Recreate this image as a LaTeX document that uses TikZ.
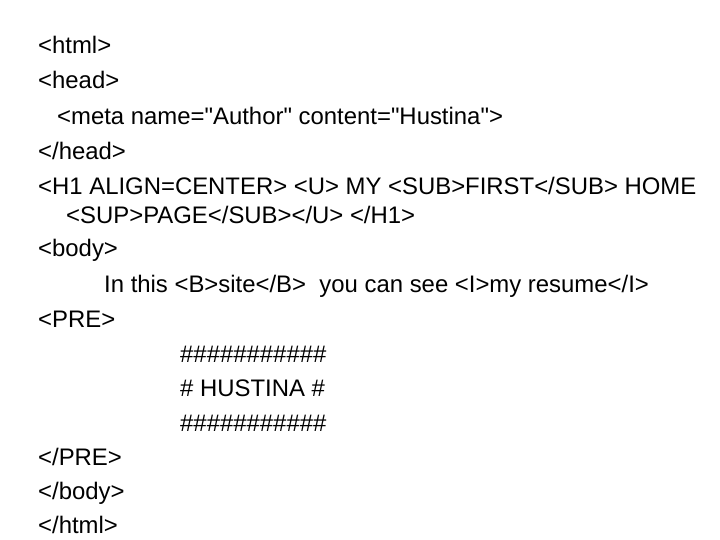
\documentclass[tikz,border=0pt]{standalone}
\usepackage{fontspec}
\setmainfont{Liberation Sans}
\begin{document}
\begin{tikzpicture}[x=1pt,y=-1pt,t/.style={anchor=base west,inner sep=0pt,font=\fontsize{23.9}{26}\selectfont}]
\useasboundingbox (0,0) rectangle (720,540);
\node[t] (l1) at (38,54) {<html>};
\node[t] (l2) at (38,89) {<head>};
\node[t] (l3) at (57,125) {<meta name=\textquotedbl Author\textquotedbl\ content=\textquotedbl Hustina\textquotedbl>};
\node[t] (l4) at (38,160) {</head>};
\node[t] (l5) at (38,195) {<H1 ALIGN=CENTER> <U> MY <SUB>FIRST</SUB> HOME};
\node[t] (l6) at (66,223) {<SUP>PAGE</SUB></U> </H1>};
\node[t] (l7) at (38,256) {<body>};
\node[t] (l8) at (104,292) {In this <B>site</B>\ \ you can see <I>my resume</I>};
\node[t] (l9) at (38,327) {<PRE>};
\node[t] (l10) at (180,362) {\#\#\#\#\#\#\#\#\#\#\#};
\node[t] (l11) at (180,396) {\# HUSTINA \#};
\node[t] (l12) at (180,431) {\#\#\#\#\#\#\#\#\#\#\#};
\node[t] (l13) at (38,465) {</PRE>};
\node[t] (l14) at (38,499) {</body>};
\node[t] (l15) at (38,533) {</html>};
\end{tikzpicture}
\end{document}
